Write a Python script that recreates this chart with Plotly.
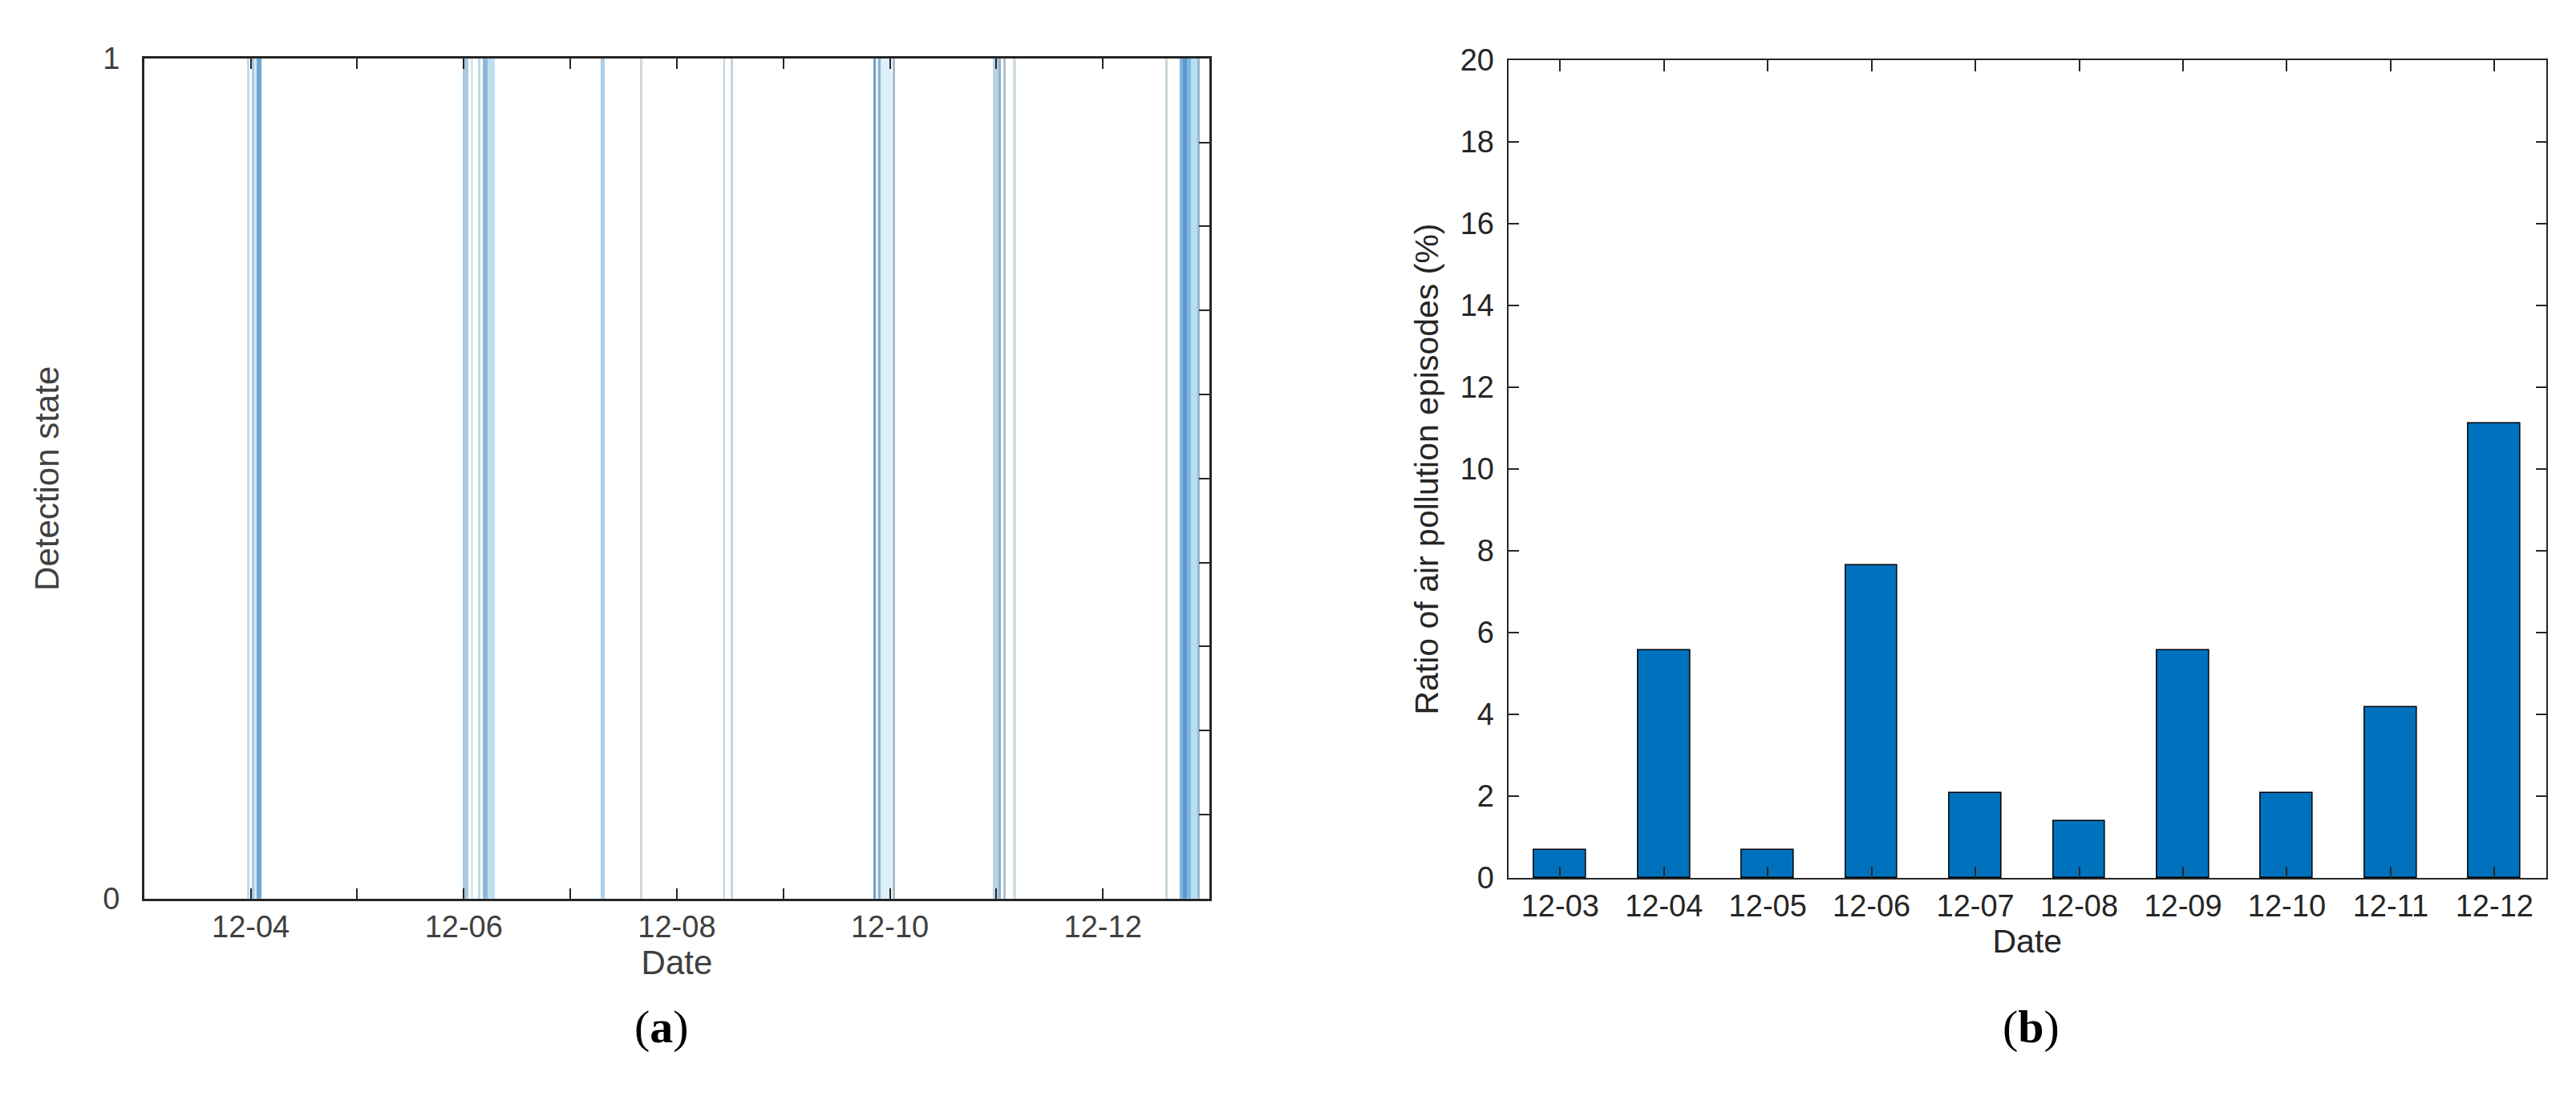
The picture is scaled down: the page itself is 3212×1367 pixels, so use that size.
import pandas as pd
import plotly.graph_objects as go

# ---------------- Data ----------------
# (a) detection bands: start / end time of each detected air-pollution band
band_start = [
    "2019-12-03 23:11", "2019-12-04 00:16", "2019-12-04 00:48", "2019-12-04 01:17",
    "2019-12-05 23:46", "2019-12-06 01:34", "2019-12-06 03:05", "2019-12-06 04:13", "2019-12-06 05:18",
    "2019-12-07 06:44", "2019-12-07 15:36",
    "2019-12-08 10:32", "2019-12-08 12:09",
    "2019-12-09 20:12", "2019-12-09 20:48", "2019-12-09 21:24", "2019-12-09 22:00", "2019-12-09 22:15", "2019-12-10 00:36",
    "2019-12-10 23:16", "2019-12-11 00:28", "2019-12-11 01:32", "2019-12-11 03:47",
    "2019-12-12 14:04", "2019-12-12 17:22", "2019-12-12 17:57", "2019-12-12 18:51", "2019-12-12 19:45", "2019-12-12 21:16",
]
band_end = [
    "2019-12-03 23:43", "2019-12-04 00:48", "2019-12-04 01:17", "2019-12-04 02:23",
    "2019-12-06 00:55", "2019-12-06 02:00", "2019-12-06 03:38", "2019-12-06 05:18", "2019-12-06 06:59",
    "2019-12-07 07:46", "2019-12-07 16:08",
    "2019-12-08 10:53", "2019-12-08 12:38",
    "2019-12-09 20:48", "2019-12-09 21:24", "2019-12-09 22:00", "2019-12-09 22:15", "2019-12-10 00:24", "2019-12-10 01:12",
    "2019-12-11 00:28", "2019-12-11 01:04", "2019-12-11 02:09", "2019-12-11 04:22",
    "2019-12-12 14:30", "2019-12-12 17:57", "2019-12-12 18:51", "2019-12-12 19:45", "2019-12-12 21:16", "2019-12-12 21:52",
]
band_state = [1, 1, 1, 1, 1, 1, 1, 1, 1, 1, 1, 1, 1, 1, 1, 1, 1, 1, 1, 1, 1, 1, 1, 1, 1, 1, 1, 1, 1]
band_shade = [
    "#c8d8e0", "#a8cce8", "#d0e8f5", "#6aa8d0",
    "#a9c8de", "#d8e8f0", "#c0d8dc", "#8ab8dc", "#c0dcee",
    "#b0cce4", "#cdd8dc",
    "#c8d4dc", "#c8d4dc",
    "#7ba0c0", "#e0f2f8", "#8eb0cc", "#d8eef6", "#ddf0f8", "#a8bcc8",
    "#b8d4e4", "#90b0c8", "#b0c4cc", "#d0dce2",
    "#c8d8e0", "#80b4dc", "#5a9ad0", "#80b8e0", "#b8ddf5", "#98b8d0",
]
a_tick_dates = ["2019-12-04", "2019-12-05", "2019-12-06", "2019-12-07", "2019-12-08",
                "2019-12-09", "2019-12-10", "2019-12-11", "2019-12-12"]
a_tick_text = ["12-04", "", "12-06", "", "12-08", "", "12-10", "", "12-12"]
a_range = ["2019-12-03 00:00", "2019-12-13 00:00"]

# (b) ratio of air pollution episodes per day
days = ["12-03", "12-04", "12-05", "12-06", "12-07", "12-08", "12-09", "12-10", "12-11", "12-12"]
ratio = [0.69, 5.56, 0.69, 7.64, 2.08, 1.39, 5.56, 2.08, 4.17, 11.11]

# ---------------- Figure ----------------
s = pd.to_datetime(band_start)
e = pd.to_datetime(band_end)
mid = s + (e - s) / 2
width_ms = [(b - a).total_seconds() * 1000 for a, b in zip(s, e)]

FONT = "Liberation Sans, Arial, sans-serif"
AX = "#262626"
GREY = "#404040"
W, H = 3212, 1367

fig = go.Figure()
fig.add_trace(go.Bar(
    x=mid, y=band_state, width=width_ms, base=0,
    marker=dict(color=band_shade, line=dict(width=0)),
    xaxis="x", yaxis="y", showlegend=False, hoverinfo="x",
))
# binds the right-hand tick axis of panel (a) (draws nothing)
fig.add_trace(go.Scatter(
    x=mid, y=band_state, mode="none", xaxis="x", yaxis="y3",
    showlegend=False, hoverinfo="skip",
))
fig.add_trace(go.Bar(
    x=days, y=ratio, width=0.5,
    marker=dict(color="#0072BD", line=dict(color="#000000", width=1.5)),
    xaxis="x2", yaxis="y2", showlegend=False,
))

fig.update_layout(
    width=W, height=H,
    margin=dict(l=0, r=0, t=0, b=0),
    paper_bgcolor="white", plot_bgcolor="white",
    barmode="overlay", bargap=0,
    font=dict(family=FONT, size=38, color=AX),
    xaxis=dict(
        domain=[0.0535, 0.467], anchor="y", type="date", range=a_range,
        tickvals=a_tick_dates, ticktext=a_tick_text,
        ticks="inside", ticklen=13, tickwidth=2, tickcolor=AX,
        showline=True, linewidth=2.5, linecolor=AX, mirror="ticks",
        showgrid=False, zeroline=False,
        tickfont=dict(size=38, color=GREY),
        title=dict(text="Date", font=dict(size=42, color=GREY), standoff=6),
        automargin=False,
    ),
    yaxis=dict(
        domain=[0.186, 0.9525], anchor="x", range=[0, 1],
        tickvals=[0, 1], ticktext=["0", "1"], ticks="",
        showline=True, linewidth=2.5, linecolor=AX, mirror=True,
        showgrid=False, zeroline=False, ticklabelstandoff=20,
        tickfont=dict(size=38, color=GREY),
        title=dict(text="Detection state", font=dict(size=42, color=GREY), standoff=42),
        automargin=False,
    ),
    yaxis3=dict(
        overlaying="y", side="right", anchor="x", range=[0, 1],
        tick0=0, dtick=0.1, ticks="inside", ticklen=13, tickwidth=2, tickcolor=AX,
        showticklabels=False, showline=False, showgrid=False, zeroline=False,
    ),
    xaxis2=dict(
        domain=[0.583, 0.986], anchor="y2", type="category", range=[-0.5, 9.5],
        ticks="inside", ticklen=14, tickwidth=1.5, tickcolor=AX,
        showline=True, linewidth=2, linecolor=AX, mirror="ticks",
        showgrid=False, zeroline=False,
        tickfont=dict(size=38, color=AX),
        title=dict(text="Date", font=dict(size=41, color=AX), standoff=10),
        automargin=False,
    ),
    yaxis2=dict(
        domain=[0.2048, 0.951], anchor="x2", range=[0, 20], dtick=2,
        ticks="inside", ticklen=13, tickwidth=1.5, tickcolor=AX,
        showline=True, linewidth=2, linecolor=AX, mirror="ticks",
        showgrid=False, zeroline=False, ticklabelstandoff=8,
        tickfont=dict(size=38, color=AX),
        title=dict(text="Ratio of air pollution episodes (%)", font=dict(size=41, color=AX), standoff=14),
        automargin=False,
    ),
    annotations=[
        dict(text="(<b>a</b>)", x=817 / W, y=(H - 1272) / H, xref="paper", yref="paper",
             xanchor="center", yanchor="middle", showarrow=False,
             font=dict(family="Liberation Serif, serif", size=58, color="#000000")),
        dict(text="(<b>b</b>)", x=2524 / W, y=(H - 1272) / H, xref="paper", yref="paper",
             xanchor="center", yanchor="middle", showarrow=False,
             font=dict(family="Liberation Serif, serif", size=58, color="#000000")),
    ],
)

fig.write_html("out.html")
